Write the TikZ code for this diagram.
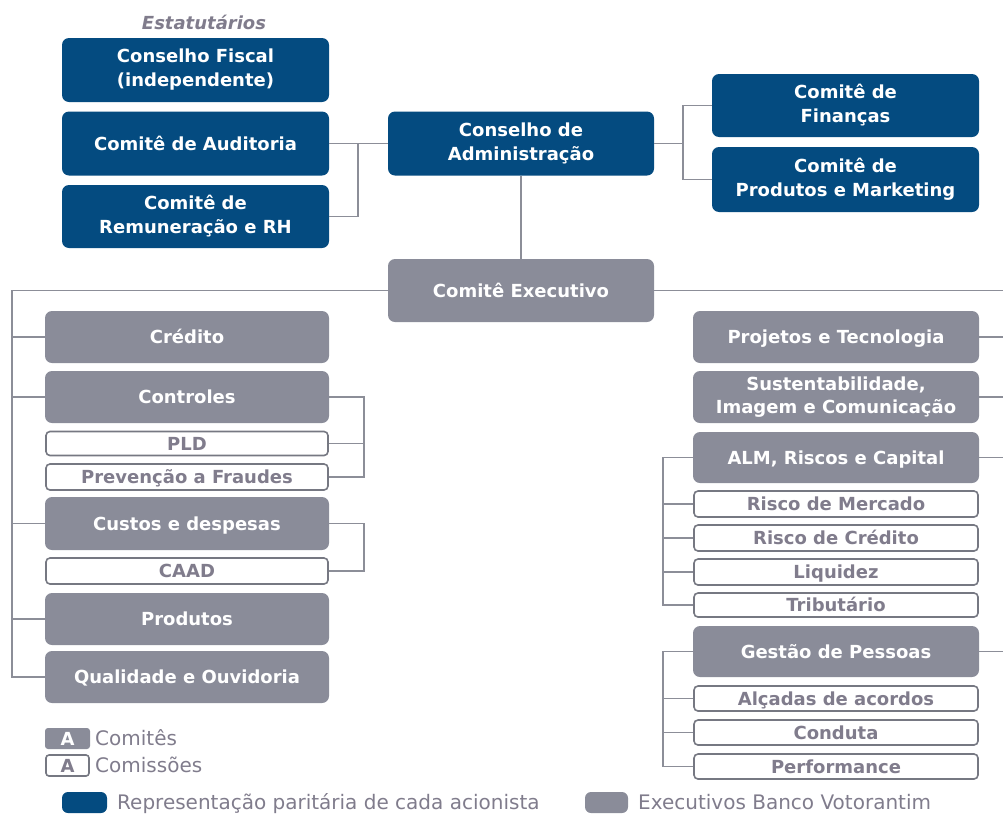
\documentclass[tikz,border=0pt]{standalone}
\usepackage{fontspec}
\setmainfont{DejaVu Sans}
\definecolor{bvblue}{RGB}{4,75,128}
\definecolor{bvgray}{RGB}{138,140,153}
\definecolor{bvline}{RGB}{140,142,152}
\definecolor{bvborder}{RGB}{118,120,130}
\definecolor{bvtext}{RGB}{128,124,140}
\begin{document}
\begin{tikzpicture}[x=1pt,y=-1pt,
  bx/.style={rounded corners=7pt, inner sep=0pt, font=\fontsize{18}{24}\selectfont\bfseries},
  one/.style={text height=13pt, text depth=0pt},
  two/.style={align=center},
  bluebox/.style={bx, fill=bvblue, text=white},
  graybox/.style={bx, fill=bvgray, text=white},
  linebox/.style={bx, one, draw=bvborder, line width=1.6pt, fill=white, text=bvtext, rounded corners=4pt},
  conn/.style={draw=bvline, line width=1.4pt},
  legtext/.style={anchor=west, inner sep=0pt, text=bvtext, font=\fontsize{20}{24}\selectfont, text height=14.5pt, text depth=0pt}]
\useasboundingbox (0,0) rectangle (1003,814);

% title
\node[text=bvtext, font=\fontsize{18}{20}\selectfont\bfseries\itshape, inner sep=0pt] (est) at (204,22) {Estatutários};

% blue boxes
\node[bluebox, two, minimum width=267pt, minimum height=64pt] (cf) at (195.5,70) {Conselho Fiscal\\(independente)};
\node[bluebox, one, minimum width=267pt, minimum height=64pt] (ca) at (195.5,143.5) {Comitê de Auditoria};
\node[bluebox, two, minimum width=267pt, minimum height=63pt] (cr) at (195.5,216.5) {Comitê de\\Remuneração e RH};
\node[bluebox, two, minimum width=266pt, minimum height=64pt] (adm) at (521,143.5) {Conselho de\\Administração};
\node[bluebox, two, minimum width=267pt, minimum height=63pt] (fin) at (845.5,105.5) {Comitê de\\Finanças};
\node[bluebox, two, minimum width=267pt, minimum height=65pt] (pm) at (845.5,179.5) {Comitê de\\Produtos e Marketing};

% executive
\node[graybox, one, minimum width=266pt, minimum height=63pt] (exe) at (521,290.5) {Comitê Executivo};

% left column
\node[graybox, one, minimum width=284pt, minimum height=52pt] (cred) at (187,337) {Crédito};
\node[graybox, one, minimum width=284pt, minimum height=52pt] (cont) at (187,397) {Controles};
\node[linebox, minimum width=282pt, minimum height=24pt] (pld) at (187,443.5) {PLD};
\node[linebox, minimum width=282pt, minimum height=26pt] (prev) at (187,477) {Prevenção a Fraudes};
\node[graybox, one, minimum width=284pt, minimum height=53pt] (cust) at (187,523.5) {Custos e despesas};
\node[linebox, minimum width=282pt, minimum height=26pt] (caad) at (187,571) {CAAD};
\node[graybox, one, minimum width=284pt, minimum height=52pt] (prod) at (187,619) {Produtos};
\node[graybox, one, minimum width=284pt, minimum height=52pt] (qual) at (187,677) {Qualidade e Ouvidoria};

% right column
\node[graybox, one, minimum width=286pt, minimum height=52pt] (proj) at (836,337) {Projetos e Tecnologia};
\node[graybox, two, minimum width=286pt, minimum height=52pt, font=\fontsize{18}{23}\selectfont\bfseries] (sust) at (836,397) {Sustentabilidade,\\Imagem e Comunicação};
\node[graybox, one, minimum width=286pt, minimum height=51pt] (alm) at (836,457.5) {ALM, Riscos e Capital};
\node[linebox, minimum width=284pt, minimum height=26pt] (rm) at (836,504) {Risco de Mercado};
\node[linebox, minimum width=284pt, minimum height=26pt] (rc) at (836,538) {Risco de Crédito};
\node[linebox, minimum width=284pt, minimum height=26pt] (liq) at (836,572) {Liquidez};
\node[linebox, minimum width=284pt, minimum height=24pt] (trib) at (836,605) {Tributário};
\node[graybox, one, minimum width=286pt, minimum height=51pt] (gest) at (836,651.5) {Gestão de Pessoas};
\node[linebox, minimum width=284pt, minimum height=25pt] (alc) at (836,698.5) {Alçadas de acordos};
\node[linebox, minimum width=284pt, minimum height=25pt] (cond) at (836,732.5) {Conduta};
\node[linebox, minimum width=284pt, minimum height=25pt] (perf) at (836,766.5) {Performance};

% junction coordinates
\coordinate (j1) at (358,143.5);
\coordinate (j2) at (683,143.5);
\coordinate (jl) at (12,290.5);
\coordinate (jr) at (1003,290.5);
\coordinate (bc) at (364,397);
\coordinate (bd) at (364,523.5);
\coordinate (ba) at (663,457.5);
\coordinate (bg) at (663,651.5);

% top connectors
\draw[conn] (ca.east) -- (j1) -- (adm.west);
\draw[conn] (cr.east) -| (j1);
\draw[conn] (adm.east) -- (j2);
\draw[conn] (fin.west) -| (j2);
\draw[conn] (pm.west) -| (j2);
\draw[conn] (adm.south) -- (exe.north);

% executive spine
\draw[conn] (exe.west) -- (jl) -- (jl |- qual.west) -- (qual.west);
\draw[conn] (cred.west) -- (cred.west -| jl);
\draw[conn] (cont.west) -- (cont.west -| jl);
\draw[conn] (cust.west) -- (cust.west -| jl);
\draw[conn] (prod.west) -- (prod.west -| jl);
\draw[conn] (exe.east) -- (jr);
\draw[conn] (proj.east) -- (proj.east -| jr);
\draw[conn] (sust.east) -- (sust.east -| jr);
\draw[conn] (alm.east) -- (alm.east -| jr);
\draw[conn] (gest.east) -- (gest.east -| jr);

% brackets
\draw[conn] (cont.east) -- (bc) -- (bc |- prev.east) -- (prev.east);
\draw[conn] (pld.east) -- (pld.east -| bc);
\draw[conn] (cust.east) -- (bd) -- (bd |- caad.east) -- (caad.east);
\draw[conn] (alm.west) -- (ba) -- (ba |- trib.west) -- (trib.west);
\draw[conn] (rm.west) -- (rm.west -| ba);
\draw[conn] (rc.west) -- (rc.west -| ba);
\draw[conn] (liq.west) -- (liq.west -| ba);
\draw[conn] (gest.west) -- (bg) -- (bg |- perf.west) -- (perf.west);
\draw[conn] (alc.west) -- (alc.west -| bg);
\draw[conn] (cond.west) -- (cond.west -| bg);

% legend
\node[graybox, one, rounded corners=3pt, minimum width=45pt, minimum height=21pt] (lga) at (67.5,738.5) {A};
\node[legtext] (lgat) at (95,738.5) {Comitês};
\node[linebox, rounded corners=3pt, minimum width=43pt, minimum height=21pt] (lgb) at (67.5,765.5) {A};
\node[legtext] (lgbt) at (95,765.5) {Comissões};
\node[fill=bvblue, rounded corners=6pt, minimum width=45pt, minimum height=21pt, inner sep=0pt] (lgc) at (84.5,802.5) {};
\node[legtext] (lgct) at (117,802.5) {Representação paritária de cada acionista};
\node[fill=bvgray, rounded corners=6pt, minimum width=43pt, minimum height=21pt, inner sep=0pt] (lgd) at (606.5,802.5) {};
\node[legtext] (lgdt) at (638,802.5) {Executivos Banco Votorantim};
\end{tikzpicture}
\end{document}
